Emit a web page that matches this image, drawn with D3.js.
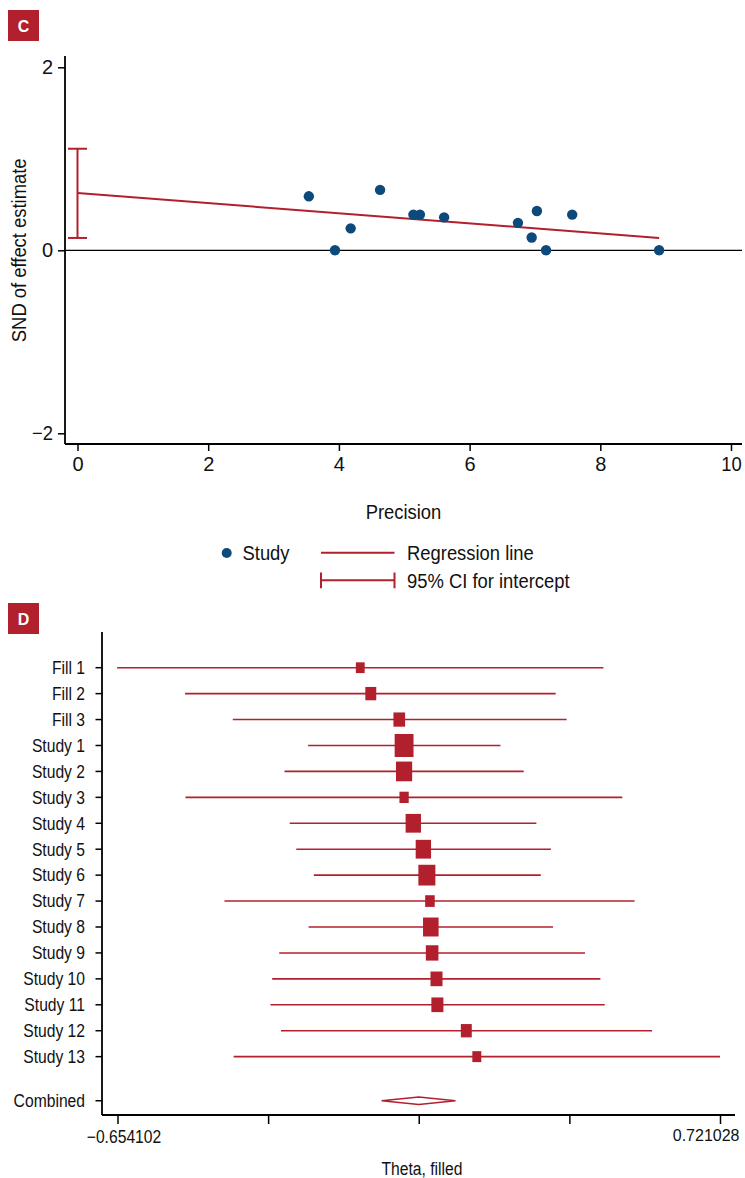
<!DOCTYPE html>
<html>
<head>
<meta charset="utf-8">
<script src="https://cdn.jsdelivr.net/npm/d3@7"></script>
<style>
  html, body { margin: 0; padding: 0; background: #fff; }
  svg { display: block; }
  text { font-family: "Liberation Sans", Arial, sans-serif; fill: #111; }
</style>
</head>
<body>
<svg id="chart" width="745" height="1178"></svg>
<script>
// ---------- Panel C data (Egger regression) ----------
const precision = [3.54, 3.94, 4.18, 4.63, 5.14, 5.24, 5.61, 6.74, 6.95, 7.03, 7.17, 7.57, 8.90];
const snd       = [0.59, 0.00, 0.24, 0.66, 0.39, 0.39, 0.36, 0.30, 0.14, 0.43, 0.00, 0.39, 0.00];
const regIntercept = 0.625;
const regSlope = -0.055;
const interceptCI = [0.135, 1.11];
const cXTicks = [0, 2, 4, 6, 8, 10];
const cYTicks = [-2, 0, 2];

// ---------- Panel D data (trim-and-fill forest plot) ----------
const studyLabels = ["Fill 1", "Fill 2", "Fill 3", "Study 1", "Study 2", "Study 3", "Study 4", "Study 5",
  "Study 6", "Study 7", "Study 8", "Study 9", "Study 10", "Study 11", "Study 12", "Study 13"];
const theta   = [-0.100, -0.076, -0.011, 0.000, 0.000, 0.000, 0.021, 0.044, 0.052, 0.059, 0.061, 0.064, 0.074, 0.076, 0.142, 0.166];
const ciLow   = [-0.655, -0.500, -0.391, -0.219, -0.273, -0.499, -0.261, -0.246, -0.206, -0.410, -0.218, -0.285, -0.301, -0.305, -0.281, -0.389];
const ciHigh  = [0.455, 0.346, 0.371, 0.220, 0.273, 0.498, 0.302, 0.335, 0.312, 0.526, 0.340, 0.413, 0.448, 0.458, 0.566, 0.721];
const weights = [2.8, 4.3, 4.9, 12.8, 9.4, 3.1, 8.5, 8.5, 10.4, 3.3, 8.7, 5.7, 5.2, 5.2, 4.3, 2.9];
const combined = { label: "Combined", theta: 0.0335, low: -0.0513, high: 0.1173 };
const dDomain = [-0.654102, 0.721028];
const dTickLabels = ["\u22120.654102", "", "", "", "0.721028"];
const dXTitle = "Theta, filled";

const RED = "#b2202d";
const BLUE = "#0c4a7c";

const svg = d3.select("#chart");

// panel badge
function badge(x, y, letter) {
  svg.append("rect").attr("x", x).attr("y", y).attr("width", 31).attr("height", 31).attr("fill", RED);
  svg.append("text").attr("x", x + 15.5).attr("y", y + 21.5).attr("text-anchor", "middle").attr("class", "badge")
    .style("fill", "#fff").style("font-weight", "bold").style("font-size", "16px").text(letter);
}

// ================= Panel C =================
badge(8, 10, "C");
const cLeft = 65, cRight = 742, cTop = 56, cBottom = 444;
const xC = d3.scaleLinear().domain([0, 10]).range([77.5, 731]);
const yC = d3.scaleLinear().domain([-2, 2]).range([433.3, 67.3]);

const gC = svg.append("g").attr("class", "panelC");
// zero reference line
gC.append("line").attr("x1", cLeft).attr("x2", cRight).attr("y1", yC(0)).attr("y2", yC(0))
  .attr("stroke", "#000").attr("stroke-width", 1.2);

// axes
const yAxC = d3.axisLeft(yC).tickValues(cYTicks).tickSize(7).tickPadding(5)
  .tickFormat(d => d < 0 ? "\u2212" + Math.abs(d) : d);
const yg = gC.append("g").attr("transform", `translate(${cLeft},0)`).call(yAxC);
yg.select(".domain").remove();
yg.append("line").attr("x1", 0).attr("x2", 0).attr("y1", cTop).attr("y2", cBottom).attr("stroke", "#000").attr("stroke-width", 1.8);
yg.selectAll(".tick line").attr("stroke", "#000").attr("stroke-width", 1.5);
yg.selectAll(".tick text").style("font-size", "20px").style("font-family", null).attr("fill", "#111");

const xAxC = d3.axisBottom(xC).tickValues(cXTicks).tickSize(7).tickPadding(6).tickFormat(d3.format("d"));
const xg = gC.append("g").attr("transform", `translate(0,${cBottom})`).call(xAxC);
xg.select(".domain").remove();
xg.append("line").attr("x1", cLeft).attr("x2", cRight).attr("y1", 0).attr("y2", 0).attr("stroke", "#000").attr("stroke-width", 1.8);
xg.selectAll(".tick line").attr("stroke", "#000").attr("stroke-width", 1.5);
xg.selectAll(".tick text").style("font-size", "20px").style("font-family", null).attr("fill", "#111");

// axis titles
gC.append("text").attr("transform", `translate(26,${yC(0)}) rotate(-90)`).attr("text-anchor", "middle")
  .style("font-size", "20px").text("SND of effect estimate");
gC.append("text").attr("x", (cLeft + cRight) / 2).attr("y", 519).attr("text-anchor", "middle")
  .style("font-size", "20px").text("Precision");

// CI for intercept
const capW = 9.5;
gC.append("line").attr("x1", xC(0)).attr("x2", xC(0)).attr("y1", yC(interceptCI[0])).attr("y2", yC(interceptCI[1]))
  .attr("stroke", RED).attr("stroke-width", 2);
interceptCI.forEach(v => {
  gC.append("line").attr("x1", xC(0) - capW).attr("x2", xC(0) + capW).attr("y1", yC(v)).attr("y2", yC(v))
    .attr("stroke", RED).attr("stroke-width", 2);
});
// regression line
const pMax = d3.max(precision);
gC.append("line").attr("x1", xC(0)).attr("y1", yC(regIntercept))
  .attr("x2", xC(pMax)).attr("y2", yC(regIntercept + regSlope * pMax))
  .attr("stroke", RED).attr("stroke-width", 2);
// points
gC.selectAll("circle.pt").data(precision).enter().append("circle").attr("class", "pt")
  .attr("cx", d => xC(d)).attr("cy", (d, i) => yC(snd[i])).attr("r", 5.2).attr("fill", BLUE);

// legend
const lg = svg.append("g").attr("class", "panelC");
lg.append("circle").attr("cx", 226.7).attr("cy", 553).attr("r", 5).attr("fill", BLUE);
lg.append("text").attr("x", 242.5).attr("y", 560).style("font-size", "20px").text("Study");
lg.append("line").attr("x1", 321).attr("x2", 394.5).attr("y1", 552.7).attr("y2", 552.7).attr("stroke", RED).attr("stroke-width", 2);
lg.append("text").attr("x", 407).attr("y", 560).style("font-size", "20px").text("Regression line");
lg.append("line").attr("x1", 321).attr("x2", 394.5).attr("y1", 580.3).attr("y2", 580.3).attr("stroke", RED).attr("stroke-width", 2);
[321, 394.5].forEach(x => lg.append("line").attr("x1", x).attr("x2", x).attr("y1", 572.5).attr("y2", 588.3).attr("stroke", RED).attr("stroke-width", 2));
lg.append("text").attr("x", 407).attr("y", 588).style("font-size", "20px").text("95% CI for intercept");

// ================= Panel D =================
badge(8, 603, "D");
const dLeft = 102, dRight = 735, dTop = 632, dBottom = 1115;
const xD = d3.scaleLinear().domain(dDomain).range([117.5, 720]);
const rowY = d3.scaleLinear().domain([0, 1]).range([667.7, 693.63]);
const combinedIdx = studyLabels.length - 1 + 1.7;
const boxH = d3.scaleSqrt().domain([0, d3.max(weights)]).range([0, 23]);

const gD = svg.append("g").attr("class", "panelD");
// y axis
gD.append("line").attr("x1", dLeft).attr("x2", dLeft).attr("y1", dTop).attr("y2", dBottom).attr("stroke", "#000").attr("stroke-width", 1.8);
const allLabels = studyLabels.concat([combined.label]);
const allIdx = studyLabels.map((d, i) => i).concat([combinedIdx]);
const ticksD = gD.selectAll("g.rowtick").data(allLabels).enter().append("g").attr("class", "rowtick")
  .attr("transform", (d, i) => `translate(${dLeft},${rowY(allIdx[i])})`);
ticksD.append("line").attr("x1", -6.5).attr("x2", 0).attr("stroke", "#000").attr("stroke-width", 1.5);
ticksD.append("text").attr("x", -17).attr("dy", "0.35em").attr("text-anchor", "end").style("font-size", "18px").text(d => d);

// x axis
const dTicks = d3.range(5).map(i => dDomain[0] + i * (dDomain[1] - dDomain[0]) / 4);
const xAxD = d3.axisBottom(xD).tickValues(dTicks).tickSize(9).tickPadding(6).tickFormat((d, i) => dTickLabels[i]);
const xgD = gD.append("g").attr("transform", `translate(0,${dBottom})`).call(xAxD);
xgD.select(".domain").remove();
xgD.append("line").attr("x1", dLeft).attr("x2", dRight).attr("y1", 0).attr("y2", 0).attr("stroke", "#000").attr("stroke-width", 1.8);
xgD.selectAll(".tick line").attr("stroke", "#000").attr("stroke-width", 1.5);
xgD.selectAll(".tick text").style("font-family", null).attr("fill", "#111")
  .style("font-size", (d, i) => i === 4 ? "16px" : "18px")
  .attr("class", (d, i) => i === 4 ? "edge" : null)
  .attr("text-anchor", (d, i) => i === 4 ? "end" : "middle")
  .attr("dx", (d, i) => i === 0 ? 6 : (i === 4 ? 19 : 0));
gD.append("text").attr("x", 422).attr("y", 1175).attr("text-anchor", "middle").style("font-size", "18px").text(dXTitle);

// CI lines
gD.selectAll("line.ci").data(theta).enter().append("line").attr("class", "ci")
  .attr("x1", (d, i) => xD(ciLow[i])).attr("x2", (d, i) => xD(ciHigh[i]))
  .attr("y1", (d, i) => rowY(i)).attr("y2", (d, i) => rowY(i))
  .attr("stroke", RED).attr("stroke-width", 1.6);
// weighted boxes
gD.selectAll("rect.box").data(theta).enter().append("rect").attr("class", "box")
  .attr("x", (d, i) => xD(d) - 0.41 * boxH(weights[i]))
  .attr("y", (d, i) => rowY(i) - boxH(weights[i]) / 2)
  .attr("width", (d, i) => 0.82 * boxH(weights[i]))
  .attr("height", (d, i) => boxH(weights[i]))
  .attr("fill", RED);
// combined diamond
const cy = rowY(combinedIdx);
gD.append("path")
  .attr("d", `M${xD(combined.low)},${cy} L${xD(combined.theta)},${cy - 3.8} L${xD(combined.high)},${cy} L${xD(combined.theta)},${cy + 3.8} Z`)
  .attr("fill", "#fff").attr("stroke", RED).attr("stroke-width", 1.5);

// condense text horizontally to mimic the narrow typeface of the original
function condense(sel, f) {
  sel.each(function () {
    const el = this;
    if (!el.textContent || el.textContent.length <= 1) return;
    if (el.getAttribute("class") === "edge") return;
    const w = el.getComputedTextLength();
    el.setAttribute("textLength", (w * f).toFixed(2));
    el.setAttribute("lengthAdjust", "spacingAndGlyphs");
  });
}
condense(svg.selectAll(".panelC text"), 0.92);
condense(svg.selectAll(".panelD text"), 0.87);
</script>
</body>
</html>
